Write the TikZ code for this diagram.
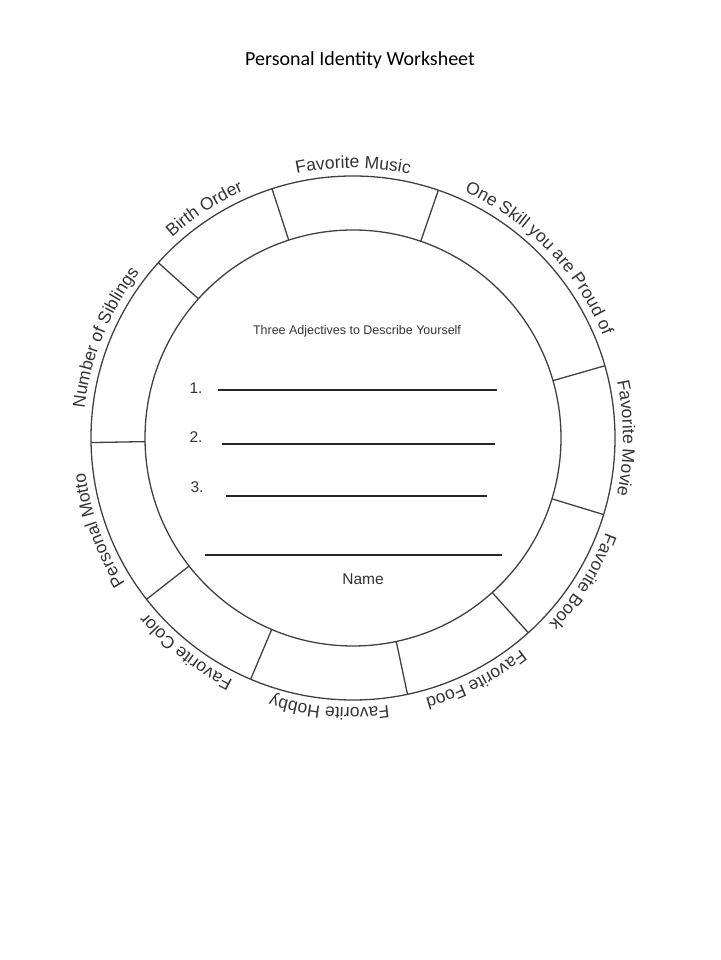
\documentclass[tikz,border=0pt]{standalone}
\usepackage{fontspec}
\setmainfont{Liberation Sans}
\newfontfamily\titlefont{Carlito}
\usetikzlibrary{decorations.text}

\newcommand\lblfont{\fontsize{17.5}{19}\selectfont\color{black!80}}
\newcommand\ringlabel[2]{%
  \path[decorate,decoration={text along path,text align=center,text={|\lblfont|#2}}]
    ([shift={(#1+45:270)}]c) arc[start angle=#1+45,end angle=#1-45,radius=270];}

\begin{document}
\begin{tikzpicture}[x=1pt,y=1pt,
    ring/.style={draw=black!75,line width=1.3pt},
    blank/.style={draw=black!85,line width=1.1pt},
    num/.style={font=\fontsize{15.5}{17}\selectfont,text=black!80}]
  \useasboundingbox (0,0) rectangle (720,960);
  \coordinate (c) at (353,522);
  \node[font=\titlefont\fontsize{20}{22}\selectfont] (title) at (360,900) {Personal Identity Worksheet};

  % rings and dividers
  \draw[ring] (c) circle (262);
  \draw[ring] (c) circle (208);
  \foreach \a in {16,71,108,138,181,218,247,282,312,343}
    \draw[ring] ([shift={(\a:208)}]c) -- ([shift={(\a:262)}]c);

  % labels round the ring
  \ringlabel{90}{Favorite Music}
  \ringlabel{44}{One Skill you are Proud of}
  \ringlabel{0}{Favorite Movie}
  \ringlabel{328}{Favorite Book}
  \ringlabel{297}{Favorite Food}
  \ringlabel{265}{Favorite Hobby}
  \ringlabel{232}{Favorite Color}
  \ringlabel{200}{Personal Motto}
  \ringlabel{158}{Number of Siblings}
  \ringlabel{123}{Birth Order}

  % inner part
  \node[font=\fontsize{12.5}{14}\selectfont,text=black!80] (adj) at (357,629) {Three Adjectives to Describe Yourself};
  \node[num] (n1) at (196,572) {1.};
  \node[num] (n2) at (196,523) {2.};
  \node[num] (n3) at (197,473) {3.};
  \coordinate (a1) at (218,570); \coordinate (b1) at (497,570);
  \coordinate (a2) at (222,516); \coordinate (b2) at (495,516);
  \coordinate (a3) at (226,464); \coordinate (b3) at (487,464);
  \coordinate (a4) at (205,405); \coordinate (b4) at (502,405);
  \draw[blank] (a1) -- (b1);
  \draw[blank] (a2) -- (b2);
  \draw[blank] (a3) -- (b3);
  \draw[blank] (a4) -- (b4);
  \node[num] (name) at (363,381) {Name};
\end{tikzpicture}
\end{document}
